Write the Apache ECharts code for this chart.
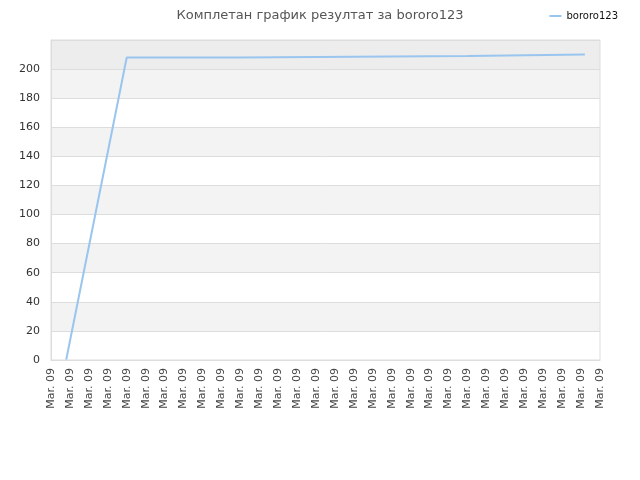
<!DOCTYPE html>
<html>
<head>
<meta charset="utf-8">
<script src="https://cdn.jsdelivr.net/npm/echarts@6/dist/echarts.min.js"></script>
<style>
  html, body { margin: 0; padding: 0; background: #fff; }
  #chart { width: 640px; height: 480px; }
</style>
</head>
<body>
<div id="chart"></div>
<script>
var titleText = 'Комплетан график резултат за bororo123';
var seriesName = 'bororo123';
// 30 tick labels along the bottom, all the same date
var tickLabels = [];
for (var i = 0; i < 30; i++) { tickLabels.push('Mar. 09'); }
// points: [tick position, score]
var xPos = [0.8, 4.0, 10.0, 10.02, 22.0, 22.02, 28.2];
var scores = [0, 208, 208, 209, 209, 210, 210];

var chart = echarts.init(document.getElementById('chart'), null, { renderer: 'canvas' });

var bandColors = ['#ffffff', '#f3f3f3', '#ffffff', '#f3f3f3', '#ffffff', '#f3f3f3',
  '#ffffff', '#f3f3f3', '#ffffff', '#f3f3f3', '#ededed'];

var option = {
  animation: false,
  backgroundColor: '#ffffff',
  textStyle: { fontFamily: 'DejaVu Sans' },
  title: {
    text: titleText,
    left: 'center',
    top: 4,
    textStyle: { fontSize: 13, fontWeight: 'normal', color: '#555555', fontFamily: 'DejaVu Sans' }
  },
  legend: {
    right: 17,
    top: 6,
    itemWidth: 12,
    itemHeight: 2,
    itemGap: 10,
    icon: 'rect',
    textStyle: { fontSize: 10, color: '#111111' },
    data: [seriesName]
  },
  grid: { left: 51, right: 40, top: 40, bottom: 120, containLabel: false },
  xAxis: {
    type: 'value',
    min: 0,
    max: tickLabels.length - 1,
    interval: 1,
    axisLine: { show: true, lineStyle: { color: '#dddddd' } },
    axisTick: { show: false },
    splitLine: { show: false },
    axisLabel: {
      rotate: 90,
      fontSize: 11,
      color: '#444444',
      margin: 8,
      formatter: function (v) { return tickLabels[Math.round(v)]; }
    }
  },
  yAxis: {
    type: 'value',
    min: 0,
    max: 220,
    interval: 20,
    axisLine: { show: true, lineStyle: { color: '#dddddd' } },
    axisTick: { show: false },
    axisLabel: { fontSize: 11, color: '#333333', margin: 11, showMaxLabel: false },
    splitLine: { show: true, lineStyle: { color: '#dddddd' } },
    splitArea: { show: true, areaStyle: { color: bandColors } }
  },
  series: [{
    name: seriesName,
    type: 'line',
    symbol: 'none',
    lineStyle: { color: '#99c5ef', width: 2 },
    itemStyle: { color: '#99c5ef' },
    data: xPos.map(function (x, i) { return [x, scores[i]]; })
  }]
};

chart.setOption(option);

// border around the plot on the top and right
var tl = chart.convertToPixel({ gridIndex: 0 }, [tickLabels.length - 1, 220]);
var bl = chart.convertToPixel({ gridIndex: 0 }, [0, 0]);
chart.setOption({
  graphic: [{
    type: 'rect',
    shape: { x: bl[0], y: tl[1], width: tl[0] - bl[0], height: bl[1] - tl[1] },
    style: { fill: null, stroke: '#dddddd', lineWidth: 1 },
    silent: true,
    z: 10
  }]
});
</script>
</body>
</html>
